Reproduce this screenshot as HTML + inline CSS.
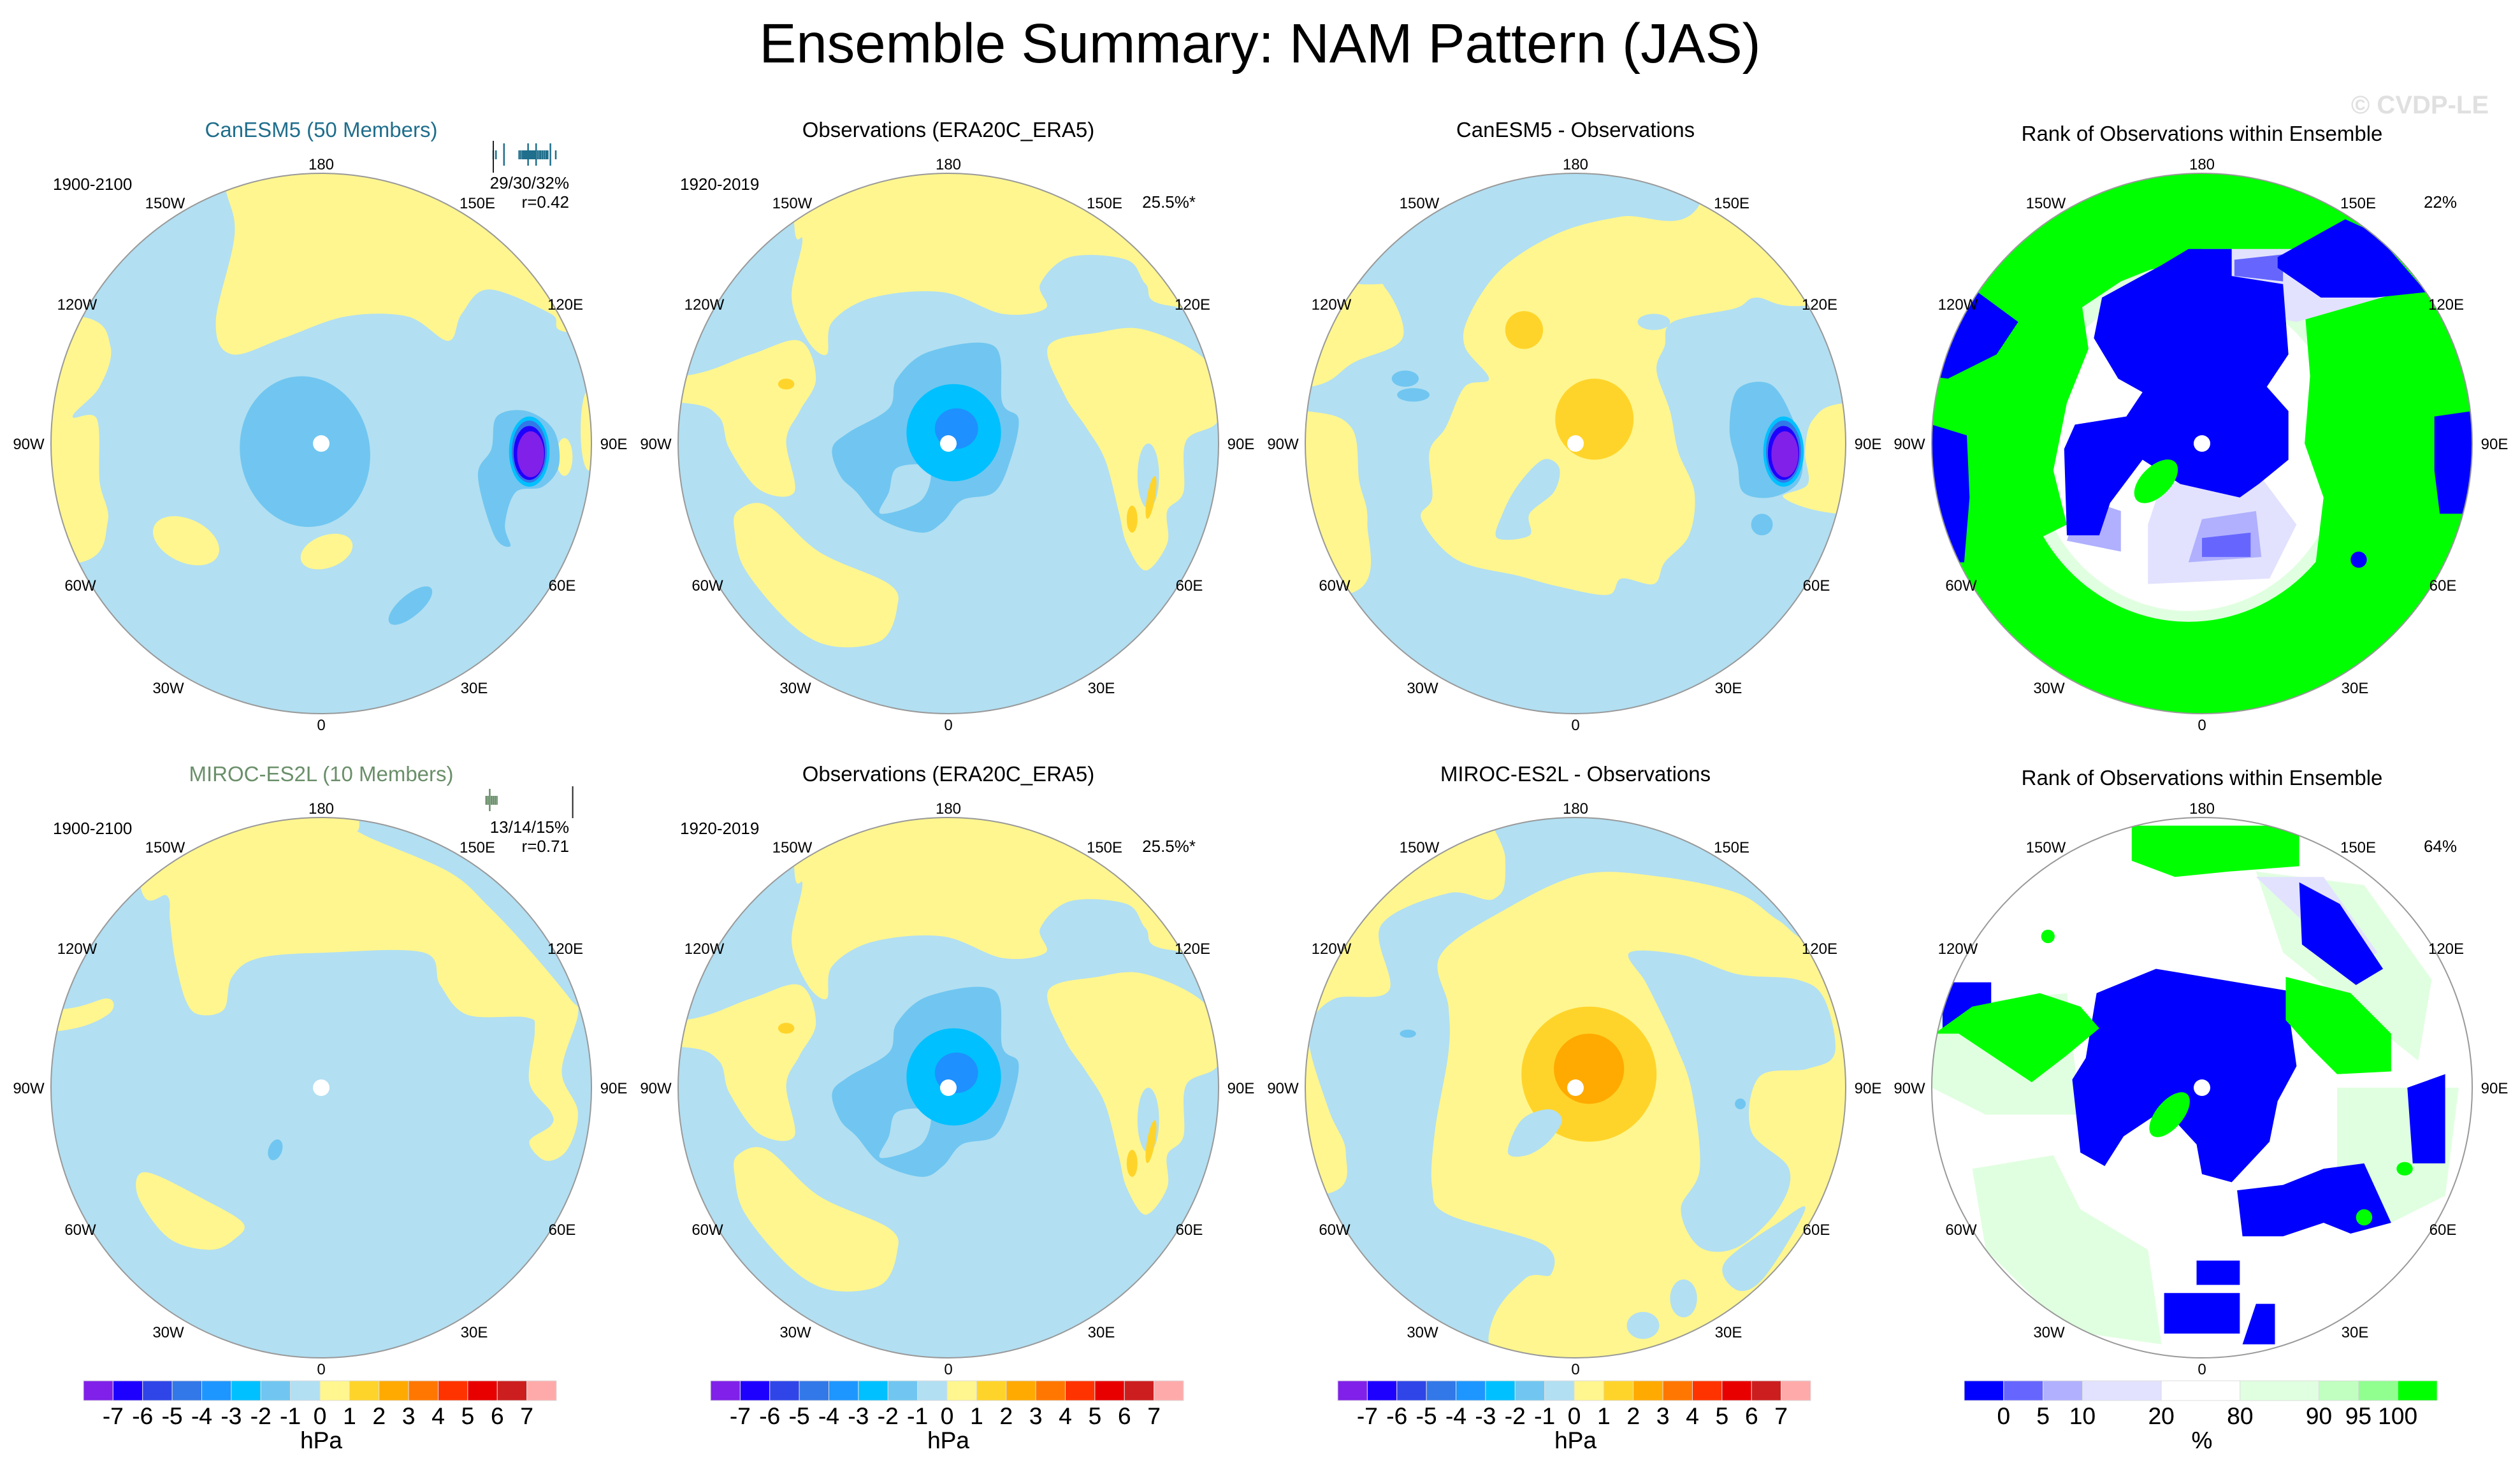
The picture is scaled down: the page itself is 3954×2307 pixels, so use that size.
<!DOCTYPE html>
<html><head><meta charset="utf-8"><title>Ensemble Summary: NAM Pattern (JAS)</title>
<style>
html,body{margin:0;padding:0;background:#fff;}
body{width:3954px;height:2302px;overflow:hidden;font-family:"Liberation Sans",Arial,sans-serif;}
svg text{font-family:"Liberation Sans",Arial,sans-serif;}
</style></head>
<body>
<svg id="chart" width="3954" height="2302" viewBox="0 0 3954 2302" xmlns="http://www.w3.org/2000/svg">
<text x="1977" y="98" font-size="87" text-anchor="middle" fill="#000">Ensemble Summary: NAM Pattern (JAS)</text>
<text x="3905" y="178" font-size="40" font-weight="bold" text-anchor="end" fill="#e0e0e0">© CVDP-LE</text>
<g id="panels"></g>
</svg>
<script>
// ---- colorbar data ----
const hpaLevels = [-7,-6,-5,-4,-3,-2,-1,0,1,2,3,4,5,6,7];
const hpaColors = ["#8020e8","#1e00ff","#2f45e8","#3278e8","#1e96ff","#00c0ff","#70c6f0","#b2dff2","#fff68f","#ffd42a","#ffaa00","#ff7700","#ff3300","#e80000","#cc1e1e","#ffaaaa"];
const rankLevels = [0,5,10,20,80,90,95,100];
const rankColors = ["#0000ff","#6666ff","#b0b0ff","#e2e2ff","#ffffff","#e0ffe0","#c0ffc0","#90ff90","#00ff00"];
const rankWidths = [1,1,1,2,2,2,1,1,1];
// ---- panel text data ----
const panelTitles = ["CanESM5 (50 Members)","Observations (ERA20C_ERA5)","CanESM5 - Observations","Rank of Observations within Ensemble","MIROC-ES2L (10 Members)","Observations (ERA20C_ERA5)","MIROC-ES2L - Observations","Rank of Observations within Ensemble"];
const panelTitleColors = ["#1f6e8c","#000","#000","#000","#6a8f6a","#000","#000","#000"];
const leftNotes = ["1900-2100","1920-2019","","","1900-2100","1920-2019","",""];
const rightNotes = [["29/30/32%","r=0.42"],["","25.5%*"],["",""],["","22%"],["13/14/15%","r=0.71"],["","25.5%*"],["",""],["","64%"]];
const lonLabels = ["180","150E","120E","90E","60E","30E","0","30W","60W","90W","120W","150W"];
const member1 = [0.10,0.13,0.22,0.39,0.41,0.43,0.44,0.45,0.46,0.47,0.48,0.49,0.50,0.51,0.52,0.53,0.54,0.55,0.56,0.57,0.58,0.60,0.62,0.63,0.65,0.67,0.69,0.70,0.71,0.74,0.80];
const member2 = [0.02,0.04,0.06,0.08,0.10,0.12,0.14];

const LB="#b2dff2",Y="#fff68f",DY="#ffd42a",OR="#ffaa00",B2="#70c6f0",CY="#00c0ff",DB="#1e90ff",B3="#3278e8",B4="#1e00ff",PU="#8020e8";
const RB="#0000ff",R2="#6666ff",R3="#b0b0ff",R4="#e2e2ff",G1="#e0ffe0",GG="#00ff00";
const O=1.4;
const canesmPurple=[
 {c:B2,p:[[0.65,-0.1],[0.76,-0.12],[0.86,-0.05],[0.88,0.08],[0.82,0.16],[0.72,0.18],[0.68,0.3],[0.7,0.38],[0.64,0.34],[0.58,0.12],[0.63,0.02]]},
 {c:CY,e:[0.77,0.03,0.075,0.13,0]},{c:B3,e:[0.77,0.03,0.065,0.115,0]},{c:B4,e:[0.77,0.035,0.058,0.1,0]},{c:PU,e:[0.775,0.04,0.05,0.085,0]}];
const obsShapes=[
 {c:Y,p:[[-0.57,-0.81],[-0.54,-0.75],[-0.58,-0.54],[-0.52,-0.38],[-0.45,-0.33],[-0.43,-0.45],[-0.28,-0.54],[-0.02,-0.56],[0.2,-0.48],[0.36,-0.5],[0.34,-0.59],[0.45,-0.69],[0.66,-0.68],[0.73,-0.59],[0.82,-0.51],[O,-0.5],[O,-O],[-0.57,-O]]},
 {c:Y,p:[[-0.98,-0.25],[-0.73,-0.33],[-0.55,-0.38],[-0.49,-0.24],[-0.55,-0.12],[-0.6,-0.01],[-0.57,0.18],[-0.7,0.17],[-0.81,0.02],[-0.85,-0.1],[-0.98,-0.15],[-O,-0.15],[-O,-0.25]]},
 {c:Y,p:[[-0.78,0.25],[-0.67,0.23],[-0.48,0.4],[-0.22,0.52],[-0.19,0.61],[-0.25,0.73],[-0.43,0.75],[-0.58,0.67],[-0.75,0.47],[-0.79,0.33]]},
 {c:Y,p:[[0.37,-0.36],[0.55,-0.41],[0.73,-0.42],[0.96,-0.3],[1.0,-0.09],[0.88,-0.01],[0.87,0.18],[0.81,0.25],[0.81,0.37],[0.73,0.47],[0.66,0.37],[0.63,0.25],[0.58,0.06],[0.51,-0.06],[0.43,-0.18]]},
 {c:LB,e:[0.74,0.12,0.04,0.12,0]},{c:DY,e:[0.75,0.2,0.015,0.08,10]},{c:DY,e:[0.68,0.28,0.02,0.05,0]},{c:DY,e:[-0.6,-0.22,0.03,0.02,0]},
 {c:B2,p:[[-0.43,0.02],[-0.37,-0.04],[-0.22,-0.13],[-0.19,-0.24],[-0.07,-0.34],[0.17,-0.36],[0.2,-0.15],[0.26,-0.09],[0.23,0.06],[0.17,0.18],[0.05,0.21],[-0.02,0.29],[-0.1,0.33],[-0.25,0.28],[-0.34,0.18],[-0.4,0.12]]},
 {c:LB,p:[[-0.19,0.09],[-0.07,0.09],[-0.1,0.21],[-0.25,0.26],[-0.22,0.18]]},
 {c:CY,e:[0.02,-0.04,0.175,0.18,0]},{c:DB,e:[0.03,-0.055,0.08,0.075,0]}];
const shapes=[
 {bg:LB,smooth:true,s:[
  {c:Y,p:[[-0.36,-0.99],[-0.32,-0.78],[-0.39,-0.45],[-0.33,-0.33],[-0.14,-0.39],[0.09,-0.47],[0.32,-0.47],[0.47,-0.38],[0.52,-0.48],[0.62,-0.57],[0.85,-0.48],[0.92,-0.41],[O,-0.4],[O,-O],[-0.36,-O]]},
  {c:Y,p:[[-0.89,-0.47],[-0.78,-0.36],[-0.82,-0.21],[-0.92,-0.1],[-0.83,-0.09],[-0.82,0.14],[-0.79,0.29],[-0.89,0.44],[-O,0.44],[-O,-0.47]]},
  {c:Y,e:[-0.5,0.36,0.13,0.08,25]},{c:Y,e:[0.02,0.4,0.1,0.06,-20]},{c:Y,e:[0.9,0.05,0.03,0.07,0]},{c:Y,e:[0.99,-0.05,0.03,0.15,0]},
  {c:B2,e:[-0.06,0.03,0.24,0.28,-10]},{c:B2,e:[0.33,0.6,0.1,0.04,-40]}].concat(canesmPurple)},
 {bg:LB,smooth:true,s:obsShapes},
 {bg:LB,smooth:true,s:[
  {c:Y,p:[[0.85,-0.51],[0.67,-0.54],[0.59,-0.5],[0.36,-0.45],[0.33,-0.36],[0.3,-0.27],[0.35,-0.12],[0.38,0.03],[0.44,0.18],[0.42,0.34],[0.33,0.44],[0.29,0.52],[0.17,0.5],[0.12,0.56],[-0.06,0.53],[-0.21,0.49],[-0.44,0.43],[-0.57,0.28],[-0.53,0.2],[-0.54,0.03],[-0.48,-0.06],[-0.41,-0.21],[-0.32,-0.24],[-0.41,-0.36],[-0.39,-0.48],[-0.27,-0.65],[-0.06,-0.78],[0.17,-0.84],[0.45,-0.87],[0.6,-O],[O,-0.6]]},
  {c:LB,e:[0.29,-0.45,0.06,0.03,0]},
  {c:LB,p:[[-0.27,0.26],[-0.21,0.15],[-0.12,0.06],[-0.06,0.09],[-0.08,0.18],[-0.17,0.26],[-0.17,0.34],[-0.29,0.35]]},
  {c:Y,p:[[-0.8,-0.59],[-0.7,-0.57],[-0.64,-0.39],[-0.82,-0.3],[-0.98,-0.21],[-O,-0.2],[-O,-0.6]]},
  {c:Y,p:[[-1,-0.12],[-0.83,-0.06],[-0.8,0.14],[-0.77,0.29],[-0.82,0.55],[-O,0.55],[-O,-0.12]]},
  {c:Y,p:[[1.0,-0.15],[0.88,-0.09],[0.85,0.03],[0.86,0.15],[0.77,0.2],[0.97,0.26],[O,0.26],[O,-0.15]]},
  {c:DY,e:[0.07,-0.09,0.145,0.15,0]},{c:DY,e:[-0.19,-0.42,0.07,0.07,0]},
  {c:B2,e:[-0.63,-0.24,0.05,0.03,0]},{c:B2,e:[-0.6,-0.18,0.06,0.025,0]},
  {c:B2,p:[[0.6,-0.2],[0.72,-0.22],[0.8,-0.1],[0.84,0.05],[0.82,0.15],[0.72,0.2],[0.62,0.18],[0.6,0.08],[0.57,-0.05]]},
  {c:B2,e:[0.69,0.3,0.04,0.04,0]}].concat(canesmPurple.slice(1))},
 {bg:GG,smooth:false,s:[
  {c:G1,e:[-0.05,0.0,0.63,0.66,0]},
  {c:"#ffffff",e:[-0.05,0.02,0.57,0.6,0]},
  {c:GG,p:[[-0.9,-0.5],[-0.6,-0.62],[-0.45,-0.55],[-0.42,-0.35],[-0.5,-0.15],[-0.55,0.1],[-0.5,0.3],[-0.6,0.35],[-0.82,0.25],[-0.87,0.0],[-0.95,-0.2]]},
  {c:GG,p:[[-0.6,-0.75],[-0.2,-0.8],[-0.1,-0.68],[-0.3,-0.6],[-0.45,-0.5]]},
  {c:GG,p:[[0.38,-0.5],[0.7,-0.55],[1.0,-0.3],[O,0],[1.0,0.5],[0.6,0.55],[0.42,0.45],[0.45,0.2],[0.38,0.0],[0.4,-0.25]]},
  {c:R4,p:[[-0.15,0.15],[0.2,0.1],[0.35,0.3],[0.25,0.5],[-0.2,0.52],[-0.2,0.3]]},
  {c:R3,p:[[0.0,0.28],[0.2,0.25],[0.22,0.42],[-0.05,0.44]]},
  {c:R2,p:[[0.0,0.35],[0.18,0.33],[0.18,0.42],[0.0,0.42]]},
  {c:R4,p:[[0.0,-0.72],[0.4,-0.72],[0.6,-0.8],[0.7,-0.55],[0.35,-0.45],[0.1,-0.5]]},
  {c:R3,p:[[-0.45,0.2],[-0.3,0.25],[-0.3,0.4],[-0.5,0.36]]},
  {c:RB,p:[[-0.4,-0.39],[-0.37,-0.54],[-0.15,-0.66],[-0.05,-0.72],[0.11,-0.72],[0.11,-0.62],[0.3,-0.59],[0.32,-0.33],[0.24,-0.21],[0.32,-0.12],[0.32,0.06],[0.21,0.15],[0.14,0.2],[-0.08,0.15],[-0.22,0.06],[-0.34,0.22],[-0.38,0.34],[-0.5,0.34],[-0.51,0.02],[-0.47,-0.07],[-0.28,-0.1],[-0.22,-0.19],[-0.31,-0.24]]},
  {c:R2,p:[[0.12,-0.68],[0.3,-0.7],[0.3,-0.6],[0.12,-0.62]]},
  {c:RB,p:[[0.28,-0.65],[0.28,-0.69],[0.44,-0.78],[0.53,-0.83],[0.64,-0.78],[0.83,-0.56],[0.64,-0.54],[0.44,-0.54]]},
  {c:RB,p:[[-0.83,-0.56],[-0.68,-0.45],[-0.76,-0.33],[-0.94,-0.24],[-O,-0.3],[-1.0,-0.7]]},
  {c:RB,p:[[-1.0,-0.07],[-0.87,-0.03],[-0.86,0.2],[-0.88,0.44],[-O,0.44],[-O,-0.07]]},
  {c:RB,p:[[0.86,-0.1],[1.0,-0.12],[O,0],[1.0,0.26],[0.88,0.26],[0.86,0.1]]},
  {c:GG,e:[-0.17,0.14,0.1,0.055,-45]},
  {c:RB,e:[0.58,0.43,0.03,0.03,0]}]},
 {bg:LB,smooth:true,s:[
  {c:Y,p:[[-0.67,-0.75],[-0.57,-0.71],[-0.56,-0.62],[-0.54,-0.47],[-0.5,-0.32],[-0.45,-0.27],[-0.36,-0.29],[-0.33,-0.41],[-0.23,-0.48],[0.02,-0.5],[0.38,-0.5],[0.44,-0.38],[0.54,-0.27],[0.76,-0.26],[0.79,-0.21],[0.77,-0.02],[0.85,0.09],[0.85,0.14],[0.77,0.2],[0.83,0.27],[0.91,0.23],[0.95,0.09],[0.89,-0.06],[0.95,-0.27],[0.92,-0.33],[0.77,-0.51],[0.62,-0.67],[0.47,-0.8],[0.15,-0.94],[0.14,-0.99],[0.1,-O],[-0.7,-O]]},
  {c:Y,p:[[-0.97,-0.29],[-0.79,-0.33],[-0.79,-0.27],[-0.97,-0.21],[-O,-0.2],[-O,-0.3]]},
  {c:Y,p:[[-0.68,0.33],[-0.62,0.32],[-0.44,0.41],[-0.29,0.5],[-0.32,0.56],[-0.41,0.6],[-0.56,0.56],[-0.67,0.42]]},
  {c:B2,e:[-0.17,0.23,0.025,0.04,20]}]},
 {bg:LB,smooth:true,s:obsShapes},
 {bg:Y,smooth:true,s:[
  {c:LB,p:[[-0.32,-O],[-0.26,-0.85],[-0.3,-0.7],[-0.47,-0.72],[-0.72,-0.6],[-0.69,-0.36],[-0.89,-0.33],[-0.98,-0.24],[-0.98,-0.13],[-0.91,0.09],[-0.85,0.24],[-0.91,0.39],[-O,0.4],[-O,O],[-0.32,O],[-0.32,0.91],[-0.19,0.71],[-0.09,0.69],[-0.12,0.58],[-0.47,0.47],[-0.53,0.37],[-0.52,0.16],[-0.47,-0.13],[-0.47,-0.3],[-0.5,-0.49],[-0.26,-0.66],[0.03,-0.79],[0.32,-0.78],[0.6,-0.72],[0.75,-0.62],[0.91,-0.53],[O,-0.5],[O,-O]]},
  {c:LB,p:[[0.2,-0.5],[0.4,-0.49],[0.6,-0.42],[0.82,-0.4],[0.92,-0.33],[0.96,-0.13],[0.86,-0.07],[0.68,-0.04],[0.65,0.16],[0.79,0.3],[0.75,0.45],[0.6,0.59],[0.46,0.59],[0.39,0.45],[0.46,0.3],[0.43,0.01],[0.37,-0.16],[0.32,-0.27],[0.26,-0.39]]},
  {c:LB,p:[[0.75,0.5],[0.85,0.45],[0.7,0.7],[0.6,0.75],[0.55,0.65]]},
  {c:LB,e:[0.25,0.88,0.06,0.05,0]},{c:LB,e:[0.4,0.78,0.05,0.07,0]},
  {c:DY,e:[0.05,-0.05,0.25,0.25,0]},{c:OR,e:[0.05,-0.07,0.13,0.13,0]},
  {c:LB,p:[[-0.25,0.24],[-0.2,0.12],[-0.1,0.08],[-0.05,0.12],[-0.1,0.2],[-0.18,0.25]]},
  {c:B2,e:[-0.62,-0.2,0.03,0.015,0]},{c:B2,e:[0.61,0.06,0.02,0.02,0]}]},
 {bg:"#ffffff",smooth:false,s:[
  {c:G1,p:[[-0.85,0.3],[-0.55,0.25],[-0.45,0.45],[-0.2,0.6],[-0.15,0.95],[-0.5,0.9],[-0.8,0.6]]},
  {c:G1,p:[[0.2,-0.8],[0.6,-0.75],[0.85,-0.4],[0.8,-0.1],[0.3,-0.5]]},
  {c:G1,p:[[0.5,0.0],[0.95,0.0],[0.9,0.4],[0.7,0.5],[0.5,0.3]]},
  {c:G1,p:[[-0.98,-0.3],[-0.5,-0.35],[-0.45,0.1],[-0.8,0.1],[-1,0]]},
  {c:R4,p:[[0.2,-0.78],[0.45,-0.78],[0.65,-0.5],[0.55,-0.45]]},
  {c:RB,p:[[-0.39,-0.35],[-0.17,-0.44],[0.31,-0.36],[0.35,-0.08],[0.28,0.05],[0.25,0.2],[0.11,0.35],[0,0.32],[-0.02,0.21],[-0.14,0.08],[-0.29,0.18],[-0.36,0.29],[-0.45,0.24],[-0.48,-0.03],[-0.43,-0.11]]},
  {c:RB,p:[[0.36,-0.76],[0.51,-0.68],[0.67,-0.44],[0.57,-0.38],[0.37,-0.53]]},
  {c:RB,p:[[0.13,0.38],[0.3,0.36],[0.45,0.3],[0.6,0.28],[0.7,0.5],[0.55,0.54],[0.45,0.5],[0.3,0.55],[0.15,0.55]]},
  {c:RB,p:[[-0.14,0.76],[0.14,0.76],[0.14,0.91],[-0.14,0.91]]},
  {c:RB,p:[[-0.02,0.64],[0.14,0.64],[0.14,0.73],[-0.02,0.73]]},
  {c:RB,p:[[0.2,0.8],[0.27,0.8],[0.27,0.95],[0.15,0.95]]},
  {c:RB,p:[[-0.96,-0.39],[-0.78,-0.39],[-0.78,-0.21],[-0.96,-0.21]]},
  {c:RB,p:[[0.76,0.0],[0.9,-0.05],[0.9,0.28],[0.78,0.28]]},
  {c:GG,p:[[-0.26,-0.97],[0.36,-0.97],[0.36,-0.82],[0.1,-0.8],[-0.1,-0.78],[-0.26,-0.84]]},
  {c:GG,p:[[-0.99,-0.2],[-0.85,-0.3],[-0.6,-0.35],[-0.45,-0.3],[-0.38,-0.22],[-0.5,-0.12],[-0.63,-0.02],[-0.75,-0.1],[-0.9,-0.2]]},
  {c:GG,p:[[0.31,-0.41],[0.55,-0.35],[0.7,-0.2],[0.7,-0.06],[0.5,-0.05],[0.4,-0.15],[0.31,-0.25]]},
  {c:GG,e:[-0.12,0.1,0.1,0.05,-50]},{c:GG,e:[-0.57,-0.56,0.025,0.025,0]},{c:GG,e:[0.6,0.48,0.03,0.03,0]},{c:GG,e:[0.75,0.3,0.03,0.025,0]}]}
];

const NS="http://www.w3.org/2000/svg";
const root=document.getElementById('panels');
const colsX=[504,1488,2472,3455];
const rowsY=[696,1707];
const R=424;
function mk(tag,attrs,parent){const e=document.createElementNS(NS,tag);for(const k in attrs)e.setAttribute(k,attrs[k]);(parent||root).appendChild(e);return e;}
function smoothPath(pts){
  const n=pts.length;let d=`M${pts[0][0]},${pts[0][1]}`;
  for(let i=0;i<n;i++){const p0=pts[(i-1+n)%n],p1=pts[i],p2=pts[(i+1)%n],p3=pts[(i+2)%n];
    const c1=[p1[0]+(p2[0]-p0[0])/6,p1[1]+(p2[1]-p0[1])/6],c2=[p2[0]-(p3[0]-p1[0])/6,p2[1]-(p3[1]-p1[1])/6];
    d+=` C${c1[0].toFixed(1)},${c1[1].toFixed(1)} ${c2[0].toFixed(1)},${c2[1].toFixed(1)} ${p2[0].toFixed(1)},${p2[1].toFixed(1)}`;}
  return d+'Z';
}
function drawColorbar(g,cx,colors,widths,levels,unit){
  const x0=cx-373,w=742,y=2167,h=31;
  const tot=widths.reduce((a,b)=>a+b,0);
  let acc=0;const bounds=[];
  colors.forEach((c,i)=>{
    const bx=x0+acc/tot*w,bw=widths[i]/tot*w;
    const r=mk('rect',{x:bx,y:y,width:bw,height:h,fill:c,stroke:'#ddd','stroke-width':1},g);
    
    
    acc+=widths[i];bounds.push(x0+acc/tot*w);
  });
  levels.forEach((v,i)=>{
    const t=mk('text',{x:bounds[i],y:2235,'font-size':37,'text-anchor':'middle'},g);
    t.textContent=v;
    
    
  });
  const u=mk('text',{x:cx,y:2273,'font-size':37,'text-anchor':'middle'},g);
  u.textContent=unit;
  
  
}
const lonOffsets=[[0,-439],[245,-378],[383,-219],[459,0],[378,222],[240,383],[0,441],[-240,383],[-378,222],[-459,0],[-383,-219],[-245,-378]];
for(let k=0;k<8;k++){
  const cx=colsX[k%4],cy=rowsY[Math.floor(k/4)],off=cy-696;
  const g=mk('g',{});
  
  
  const defs=mk('defs',{},g);
  const cp=mk('clipPath',{id:'clip'+k},defs);
  mk('circle',{cx:cx,cy:cy,r:R},cp);
  const mapG=mk('g',{'clip-path':`url(#clip${k})`},g);
  
  
  const P=shapes[k];
  mk('rect',{x:cx-R,y:cy-R,width:2*R,height:2*R,fill:P.bg},mapG);
  P.s.forEach(sh=>{
    let el;
    if(sh.e){el=mk('ellipse',{cx:cx+sh.e[0]*R,cy:cy+sh.e[1]*R,rx:sh.e[2]*R,ry:sh.e[3]*R,fill:sh.c,transform:`rotate(${sh.e[4]} ${cx+sh.e[0]*R} ${cy+sh.e[1]*R})`},mapG);}
    else{const pts=sh.p.map(p=>[cx+p[0]*R,cy+p[1]*R]);
      if(P.smooth) el=mk('path',{d:smoothPath(pts),fill:sh.c},mapG);
      else el=mk('polygon',{points:pts.map(p=>p.join(',')).join(' '),fill:sh.c},mapG);}
    
    
  });
  const pole=mk('circle',{cx:cx,cy:cy,r:13,fill:'#fff'},g);
  
  
  const border=mk('circle',{cx:cx,cy:cy,r:R,fill:'none',stroke:'#999','stroke-width':2},g);
  
  
  lonLabels.forEach((l,i)=>{
    const t=mk('text',{x:cx+lonOffsets[i][0],y:cy+lonOffsets[i][1]+9,'font-size':24,'text-anchor':'middle'},g);
    t.textContent=l;
    
    
  });
  const isRank=(k%4===3);
  const tt=mk('text',{x:cx,y:(isRank?221:215)+off,'font-size':33,'text-anchor':'middle',fill:panelTitleColors[k]},g);
  tt.textContent=panelTitles[k];
  
  
  if(leftNotes[k]){const t=mk('text',{x:cx-421,y:298+off,'font-size':26},g);t.textContent=leftNotes[k];
    
    }
  if(rightNotes[k][0]){const t=mk('text',{x:cx+389,y:296+off,'font-size':26,'text-anchor':'end'},g);t.textContent=rightNotes[k][0];
    
    }
  if(rightNotes[k][1]){const t=mk('text',{x:cx+(k%4===0?389:(k%4===1?388:400)),y:326+off,'font-size':26,'text-anchor':'end'},g);t.textContent=rightNotes[k][1];
    
    }
  if(isRank) drawColorbar(g,cx,rankColors,rankWidths,rankLevels,'%');
  else drawColorbar(g,cx,hpaColors,hpaColors.map(()=>1),hpaLevels,'hPa');
}
function ticks(vals,y0,col,obsX,strip){
  const x0=760,w=140;
  const g=mk('g',{});
  
  
  vals.forEach((v,i)=>{
    const tall=(i%9===2);
    const l=mk('line',{x1:x0+v*w,x2:x0+v*w,y1:y0+(tall?2:13),y2:y0+(tall?37:27),stroke:col,'stroke-width':2.5},g);
    
    
  });
  const o=mk('line',{x1:x0+obsX*w,x2:x0+obsX*w,y1:y0-2,y2:y0+48,stroke:'#222','stroke-width':2},g);
  
  
}
ticks(member1,223,'#1f6e8c',0.1,'member-strip-canesm5');
ticks(member2,1236,'#6a8f6a',0.99,'member-strip-miroc');
</script>
</body></html>
